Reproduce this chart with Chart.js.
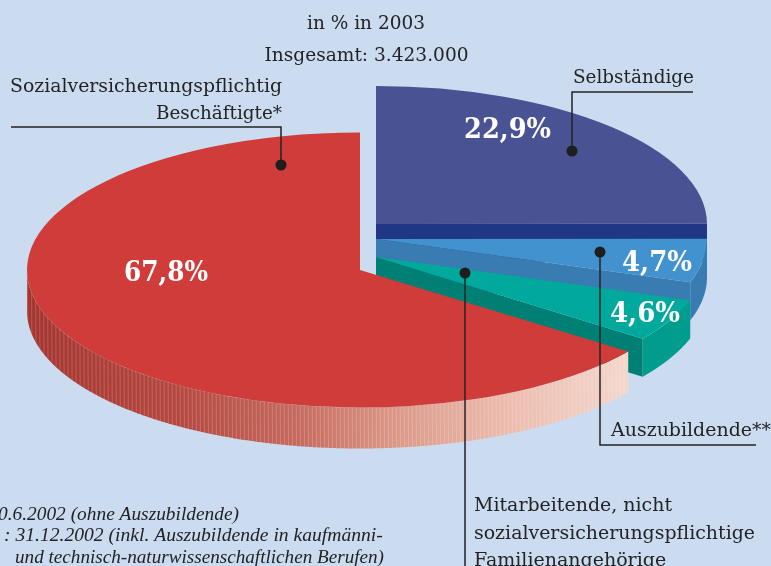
<!DOCTYPE html>
<html><head><meta charset="utf-8">
<style>html,body{margin:0;padding:0;background:#cbdcf1;overflow:hidden}#w{width:771px;height:566px}</style>
<script src="https://cdn.jsdelivr.net/npm/chart.js@4"></script></head>
<body><div id="w"><canvas id="c" width="771" height="566"></canvas></div>
<script>
const categories = ['Selbständige','Auszubildende**','Mitarbeitende, nicht sozialversicherungspflichtige Familienangehörige','Sozialversicherungspflichtig Beschäftigte*'];
const shares = [22.9, 4.7, 4.6, 67.8];
const shareLabels = ['22,9%','4,7%','4,6%','67,8%'];
const topColors = ['#495292','#4292d0','#00a99c','#cf3c39'];
const frontColors = ['#1f3784','#387cb1','#007f74','#cf3c39'];
const wallColors = ['#1f3784','#387cb1','#009c8e','#cf3c39'];

const R = 333;
const FRONT_STRETCH = 1.09;                 // perspective widening of the front sectors
const place = [
  {cx:376,cy:224,rx:331,ry:138,d:38},
  {cx:376,cy:239,rx:331,ry:138,d:38},
  {cx:376,cy:257,rx:331,ry:138,d:38},
  {cx:360,cy:270,rx:333,ry:137.5,d:41}
];
const SERIF = '"DejaVu Serif"', INK = '#232323';

function pt(p,a,dy){return [p.cx+p.rx*Math.cos(a), p.cy+p.ry*Math.sin(a)+(dy||0)];}
function wallPath(ctx,p,s,e){
  const a0=Math.max(s,0), a1=Math.min(e,Math.PI);
  // only the near half of the rim is visible
  ctx.beginPath();
  let a=a0, first=true;
  for(;a<a1;a+=0.005){const q=pt(p,a);first?ctx.moveTo(q[0],q[1]):ctx.lineTo(q[0],q[1]);first=false;}
  let q=pt(p,a1);ctx.lineTo(q[0],q[1]);
  for(a=a1;a>a0;a-=0.005){q=pt(p,a,p.d);ctx.lineTo(q[0],q[1]);}
  q=pt(p,a0,p.d);ctx.lineTo(q[0],q[1]);
  ctx.closePath();
}
function drawArc(ctx,arc,p){
  ctx.save();
  ctx.translate(p.cx,p.cy);
  ctx.scale(p.rx/R,p.ry/R);
  ctx.translate(-arc.x,-arc.y);
  arc.draw(ctx);
  ctx.restore();
}
const pie3d = {
  id:'pie3d',
  afterDatasetsUpdate(chart){
    const arcs=chart.getDatasetMeta(0).data;
    let a=-Math.PI/2;
    arcs.forEach((arc,i)=>{
      const sweep = i<3 ? arc.circumference*FRONT_STRETCH : (3*Math.PI/2-a);
      arc.startAngle=a; arc.endAngle=a+sweep; arc.circumference=sweep; a+=sweep;
    });
  },
  beforeDatasetsDraw(chart){
    const ctx=chart.ctx, arcs=chart.getDatasetMeta(0).data;
    arcs.forEach((arc,i)=>{
      const p=place[i], s=arc.startAngle, e=arc.endAngle;
      if(i<3){
        ctx.fillStyle=wallColors[i]; wallPath(ctx,p,s,e); ctx.fill();
        const q=pt(p,e);
        ctx.fillStyle=frontColors[i];
        ctx.beginPath();ctx.moveTo(p.cx,p.cy);ctx.lineTo(q[0],q[1]);ctx.lineTo(q[0],q[1]+p.d);ctx.lineTo(p.cx,p.cy+p.d);ctx.closePath();ctx.fill();
      } else {
        const xr=pt(p,s)[0];
        const g=ctx.createLinearGradient(p.cx-p.rx,0,xr,0);
        g.addColorStop(0,'#a5342f');g.addColorStop(.25,'#b4483f');g.addColorStop(.45,'#c66a5e');
        g.addColorStop(.62,'#dc9a8a');g.addColorStop(.8,'#ecbcae');g.addColorStop(1,'#f3d6cb');
        ctx.save();
        wallPath(ctx,p,s,e);ctx.fillStyle=g;ctx.fill();ctx.clip();
        ctx.strokeStyle='rgba(255,255,255,.2)';ctx.lineWidth=1;
        for(let x=p.cx-p.rx+.5;x<xr;x+=4){ctx.beginPath();ctx.moveTo(x,p.cy);ctx.lineTo(x+1,p.cy+p.ry+p.d+2);ctx.stroke();}
        ctx.restore();
      }
      drawArc(ctx,arc,p);
    });
    labels(ctx);
    return false;
  }
};
function text(ctx,t,x,y,o){
  o=o||{};
  ctx.font=o.font||('19px '+SERIF);
  ctx.fillStyle=o.color||INK;
  ctx.textAlign=o.align||'left';
  ctx.textBaseline='alphabetic';
  if(o.w) ctx.fillText(t,x,y,o.w); else ctx.fillText(t,x,y);
}
function leader(ctx,pts){
  ctx.strokeStyle=INK;ctx.lineWidth=1.5;ctx.beginPath();
  pts.forEach((q,i)=>i?ctx.lineTo(q[0],q[1]):ctx.moveTo(q[0],q[1]));ctx.stroke();
  const d=pts[pts.length-1];
  ctx.fillStyle='#1e1e1e';ctx.beginPath();ctx.arc(d[0],d[1],5.5,0,7);ctx.fill();
}
function labels(ctx){
  leader(ctx,[[11,127],[281,127],[281,165]]);
  leader(ctx,[[693,92],[572,92],[572,151]]);
  leader(ctx,[[756,445],[600,445],[600,252]]);
  leader(ctx,[[465,570],[465,273]]);
  const B='bold 28px '+SERIF;
  text(ctx,shareLabels[0],464,138,{font:B,color:'#fff',w:87});
  text(ctx,shareLabels[3],124,281,{font:B,color:'#fff',w:84});
  text(ctx,shareLabels[1],622,271,{font:B,color:'#fff',w:70});
  text(ctx,shareLabels[2],610,322,{font:B,color:'#fff',w:70});
  text(ctx,'in % in 2003',366,29,{align:'center',w:118});
  text(ctx,'Insgesamt: 3.423.000',366.5,61,{align:'center',w:204});
  text(ctx,'Sozialversicherungspflichtig',282,92,{align:'right',w:272});
  text(ctx,'Beschäftigte*',282,119,{align:'right',w:126});
  text(ctx,'Selbständige',573,83,{w:121});
  text(ctx,'Auszubildende**',611,436,{w:160});
  text(ctx,'Mitarbeitende, nicht',474,511,{w:198});
  text(ctx,'sozialversicherungspflichtige',474,539,{w:281});
  text(ctx,'Familienangehörige',474,566,{w:194});
  const I='italic 19.6px "Liberation Serif"';
  text(ctx,'0.6.2002 (ohne Auszubildende)',-2,520,{font:I,w:241});
  text(ctx,': 31.12.2002 (inkl. Auszubildende in kaufmänni-',4,541,{font:I,w:380});
  text(ctx,'und technisch-naturwissenschaftlichen Berufen)',15,563,{font:I,w:369});
}
new Chart(document.getElementById('c'),{
  type:'pie',
  data:{labels:categories,datasets:[{data:shares,backgroundColor:topColors,borderWidth:0}]},
  options:{responsive:false,animation:false,radius:R,rotation:0,
    layout:{padding:0},
    plugins:{legend:{display:false},tooltip:{enabled:false},title:{display:false}}},
  plugins:[pie3d]
});
</script></body></html>
